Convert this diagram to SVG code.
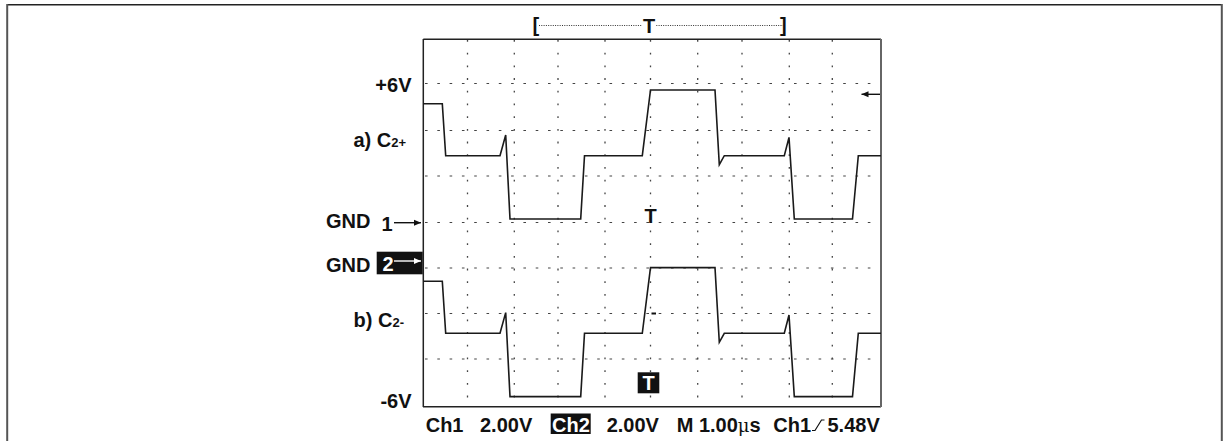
<svg xmlns="http://www.w3.org/2000/svg" width="1223" height="441" viewBox="0 0 1223 441">
<style>
  .lbl { font-family: "Liberation Sans", Arial, sans-serif; font-weight: bold; font-size: 20px; fill: #111; }
  .wl { fill: #fff; }
  .hgrid { stroke: #444; stroke-width: 1.2; stroke-dasharray: 2.6 9.7; fill: none; }
  .vgrid { stroke: #444; stroke-width: 1.3; stroke-dasharray: 1.8 10.9; fill: none; }
  .wave { stroke: #1a1a1a; stroke-width: 1.6; fill: none; stroke-linejoin: miter; }
</style>
<defs>
  <marker id="ah" markerWidth="8" markerHeight="8" refX="7" refY="4" orient="auto" markerUnits="userSpaceOnUse">
    <path d="M0,1 L7,4 L0,7 Z" fill="#111"/>
  </marker>
  <marker id="ahw" markerWidth="8" markerHeight="8" refX="7" refY="4" orient="auto" markerUnits="userSpaceOnUse">
    <path d="M0,1 L7,4 L0,7 Z" fill="#fff"/>
  </marker>
</defs>
<rect width="1223" height="441" fill="#fff"/>
<g id="frame">
  <line x1="7" y1="4.8" x2="1222" y2="4.8" stroke="#222" stroke-width="1.6"/>
  <line x1="7.2" y1="4" x2="7.2" y2="441" stroke="#555" stroke-width="2"/>
  <line x1="1221.8" y1="4" x2="1221.8" y2="441" stroke="#555" stroke-width="2"/>
</g>
<g id="grid">
  <line class="hgrid" x1="425" y1="83.5" x2="880" y2="83.5"/>
  <line class="hgrid" x1="425" y1="130.5" x2="880" y2="130.5"/>
  <line class="hgrid" x1="425" y1="176" x2="880" y2="176"/>
  <line class="hgrid" x1="425" y1="222.5" x2="880" y2="222.5"/>
  <line class="hgrid" x1="425" y1="268" x2="880" y2="268"/>
  <line class="hgrid" x1="425" y1="313.5" x2="880" y2="313.5"/>
  <line class="hgrid" x1="425" y1="359" x2="880" y2="359"/>
  <line class="vgrid" x1="467.5" y1="40" x2="467.5" y2="406"/>
  <line class="vgrid" x1="514.3" y1="40" x2="514.3" y2="406"/>
  <line class="vgrid" x1="558" y1="40" x2="558" y2="406"/>
  <line class="vgrid" x1="605" y1="40" x2="605" y2="406"/>
  <line class="vgrid" x1="650.5" y1="40" x2="650.5" y2="406"/>
  <line class="vgrid" x1="697.7" y1="40" x2="697.7" y2="406"/>
  <line class="vgrid" x1="742" y1="40" x2="742" y2="406"/>
  <line class="vgrid" x1="789.3" y1="40" x2="789.3" y2="406"/>
  <line class="vgrid" x1="832.3" y1="40" x2="832.3" y2="406"/>
  <line x1="651.5" y1="313.5" x2="656" y2="313.5" stroke="#111" stroke-width="2"/>
</g>
<g id="plot-border">
  <line x1="423.3" y1="39.3" x2="881" y2="39.3" stroke="#222" stroke-width="1.5"/>
  <line x1="423.3" y1="39" x2="423.3" y2="407" stroke="#222" stroke-width="1.5"/>
  <line x1="423" y1="406.7" x2="881" y2="406.7" stroke="#222" stroke-width="1.5"/>
  <line x1="881" y1="39" x2="881" y2="407" stroke="#666" stroke-width="2"/>
</g>
<g id="wave-a">
  <polyline class="wave" points="423,103.7 442.3,103.7 445.7,155.7 500,155.7 505.7,135 510,219 580.7,219 584.5,155.7 642.3,155.7 650.5,90 715,90 719.3,164.7 724.3,155.7 784.3,155.7 789,137.4 794.3,219 852.5,219 858.3,155.7 881,155.7"/>
</g>
<g id="wave-b">
  <polyline class="wave" transform="translate(0,177.6)" points="423,103.7 442.3,103.7 445.7,155.7 500,155.7 505.7,135 510,219 580.7,219 584.5,155.7 642.3,155.7 650.5,90 715,90 719.3,164.7 724.3,155.7 784.3,155.7 789,137.4 794.3,219 852.5,219 858.3,155.7 881,155.7"/>
</g>
<g id="trigger-window">
  <text class="lbl" x="532.5" y="31.5">[</text>
  <line x1="539" y1="25.5" x2="783" y2="25.5" stroke="#333" stroke-width="1" stroke-dasharray="1 1.3"/>
  <rect x="642" y="16" width="14" height="18" fill="#fff"/>
  <text class="lbl" x="649" y="33.3" text-anchor="middle">T</text>
  <text class="lbl" x="780" y="31.5">]</text>
</g>
<g id="labels-left">
  <text class="lbl" x="411.5" y="91.5" text-anchor="end">+6V</text>
  <text class="lbl" x="406" y="146.5" text-anchor="end">a) C<tspan font-size="13">2+</tspan></text>
  <text class="lbl" x="326" y="227.7">GND</text>
  <text class="lbl" x="381.5" y="230.5" font-size="18">1</text>
  <text class="lbl" x="326" y="272.3">GND</text>
  <rect x="376.7" y="251.7" width="46" height="22.6" fill="#111"/>
  <text class="lbl wl" x="382.5" y="271" font-size="18">2</text>
  <text class="lbl" x="404" y="327" text-anchor="end">b) C<tspan font-size="13">2-</tspan></text>
  <text class="lbl" x="411.5" y="408" text-anchor="end">-6V</text>
</g>
<g id="connectors">
  <line x1="394" y1="222.7" x2="421" y2="222.7" stroke="#111" stroke-width="1.4" marker-end="url(#ah)"/>
  <line x1="394" y1="261" x2="421" y2="261" stroke="#fff" stroke-width="1.4" marker-end="url(#ahw)"/>
  <line x1="880" y1="94.3" x2="861.5" y2="94.3" stroke="#111" stroke-width="1.4" marker-end="url(#ah)"/>
</g>
<g id="center-markers">
  <text class="lbl" x="650.5" y="223.3" text-anchor="middle" font-size="19">T</text>
  <rect x="637.7" y="372.3" width="21.6" height="21" fill="#111"/>
  <text class="lbl wl" x="648.5" y="390" text-anchor="middle" font-size="18">T</text>
</g>
<g id="labels-bottom">
  <text class="lbl" x="425.7" y="431.7">Ch1</text>
  <text class="lbl" x="480" y="431.7">2.00V</text>
  <rect x="550.7" y="413.5" width="40" height="20.5" fill="#111"/>
  <text class="lbl wl" x="552" y="431.7">Ch2</text>
  <text class="lbl" x="606.7" y="431.7">2.00V</text>
  <text class="lbl" x="676.7" y="431.7">M 1.00<tspan font-family="'DejaVu Serif', serif" font-weight="normal" font-size="18">μ</tspan>s</text>
  <text class="lbl" x="773.3" y="431.7">Ch1</text>
  <polyline points="812,430.5 815,430.5 821.5,420 824.5,420" fill="none" stroke="#111" stroke-width="1.2"/>
  <text class="lbl" x="827.5" y="431.7">5.48V</text>
</g>
</svg>
